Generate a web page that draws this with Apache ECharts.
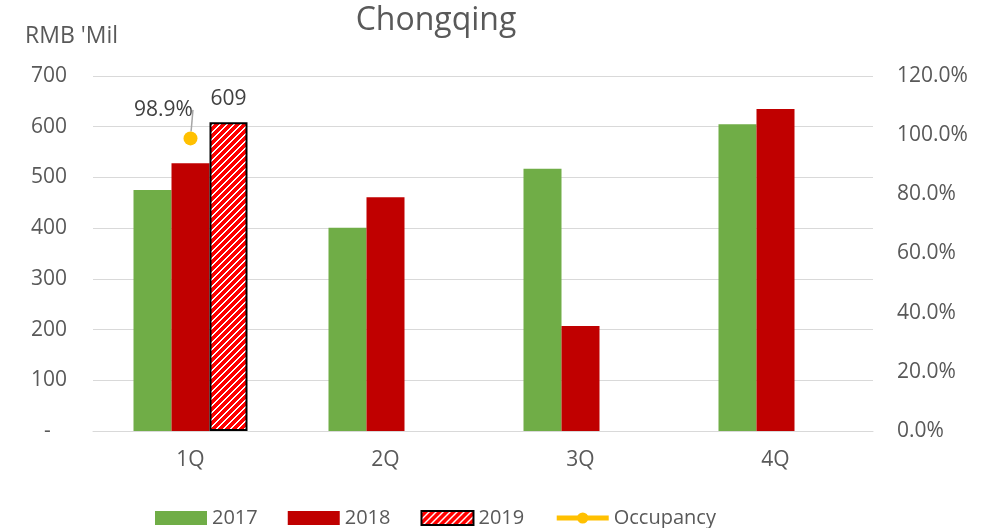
<!DOCTYPE html>
<html>
<head>
<meta charset="utf-8">
<script src="https://cdn.jsdelivr.net/npm/echarts@6/dist/echarts.min.js"></script>
<style>html,body{margin:0;padding:0;background:#fff}#c{width:982px;height:528px}</style>
</head>
<body>
<div id="c"></div>
<script>
const categories = ['1Q', '2Q', '3Q', '4Q'];
const s2017 = [475, 401, 517, 605];
const s2018 = [528, 461, 207, 635];
const s2019 = [609, null, null, null];
const occupancy = [98.9, null, null, null];
const leftTicks = { min: 0, max: 700, interval: 100 };
const rightTicks = { min: 0, max: 120, interval: 20 };

function makePattern() {
  const n = 7;
  const cv = document.createElement('canvas');
  cv.width = n; cv.height = n;
  const ctx = cv.getContext('2d');
  const img = ctx.createImageData(n, n);
  for (let y = 0; y < n; y++) {
    for (let x = 0; x < n; x++) {
      const i = (y * n + x) * 4;
      const white = ((x + y) % n) < 2;
      img.data[i] = 255;
      img.data[i + 1] = white ? 255 : 0;
      img.data[i + 2] = white ? 255 : 0;
      img.data[i + 3] = 255;
    }
  }
  ctx.putImageData(img, 0, 0);
  return cv;
}

const FONT = 'Open Sans';
const TXT = '#595959';
const FS = 21;
const chart = echarts.init(document.getElementById('c'), null, { renderer: 'canvas' });
chart.setOption({
  animation: false,
  textStyle: { fontFamily: FONT },
  title: [
    { text: 'Chongqing', left: 431, top: 0, textAlign: 'center',
      textStyle: { fontFamily: FONT, fontSize: 32, fontWeight: 'normal', color: TXT } },
    { text: "RMB 'Mil", left: 20, top: 20,
      textStyle: { fontFamily: FONT, fontSize: 23, fontWeight: 'normal', color: TXT } }
  ],
  grid: { left: 93, right: 109, top: 76, bottom: 97 },
  legend: {
    left: 150, top: 503, itemWidth: 52, itemHeight: 14, itemGap: 30,
    textStyle: { fontFamily: FONT, fontSize: 20, color: TXT },
    data: [
      { name: '2017', icon: 'rect' },
      { name: '2018', icon: 'rect' },
      { name: '2019', icon: 'rect' },
      { name: 'Occupancy', itemStyle: { color: '#FFC000' }, lineStyle: { color: '#FFC000', width: 5 } }]
  },
  xAxis: {
    type: 'category', data: categories,
    axisLine: { lineStyle: { color: '#D9D9D9', width: 1 } },
    axisTick: { show: false },
    axisLabel: { fontFamily: FONT, fontSize: FS, color: TXT, margin: 19 }
  },
  yAxis: [
    { type: 'value', min: leftTicks.min, max: leftTicks.max, interval: leftTicks.interval,
      axisLine: { show: false }, axisTick: { show: false },
      splitLine: { lineStyle: { color: '#D9D9D9', width: 1 } },
      axisLabel: { fontFamily: FONT, fontSize: FS, color: TXT, margin: 26,
        formatter: v => v === 0 ? '-   ' : String(v) } },
    { type: 'value', min: rightTicks.min, max: rightTicks.max, interval: rightTicks.interval,
      position: 'right',
      axisLine: { show: false }, axisTick: { show: false }, splitLine: { show: false },
      axisLabel: { fontFamily: FONT, fontSize: FS, color: TXT, margin: 24,
        formatter: v => v.toFixed(1) + '%' } }
  ],
  series: [
    { name: '2017', type: 'bar', data: s2017, barWidth: 38, barGap: '0%',
      itemStyle: { color: '#70AD47' } },
    { name: '2018', type: 'bar', data: s2018, barWidth: 38, barGap: '0%',
      itemStyle: { color: '#C00000' } },
    { name: '2019', type: 'bar', data: s2019, barWidth: 38, barGap: '0%',
      itemStyle: { color: { image: makePattern(), repeat: 'repeat' }, borderColor: '#000', borderWidth: 2 },
      label: { show: true, position: 'top', distance: 13, fontFamily: FONT, fontSize: FS, color: '#404040' } },
    { name: 'Occupancy', type: 'line', yAxisIndex: 1, data: occupancy,
      symbol: 'circle', symbolSize: 14,
      itemStyle: { color: '#FFC000' },
      lineStyle: { color: '#FFC000', width: 4 },
      label: { show: true, position: 'top', fontFamily: FONT, fontSize: FS, color: '#404040',
        formatter: p => p.value.toFixed(1) + '%' },
      labelLayout: { dx: -27, dy: -6 },
      labelLine: { show: true, lineStyle: { color: '#A6A6A6', width: 1.5 } } }
  ]
});
</script>
</body>
</html>
